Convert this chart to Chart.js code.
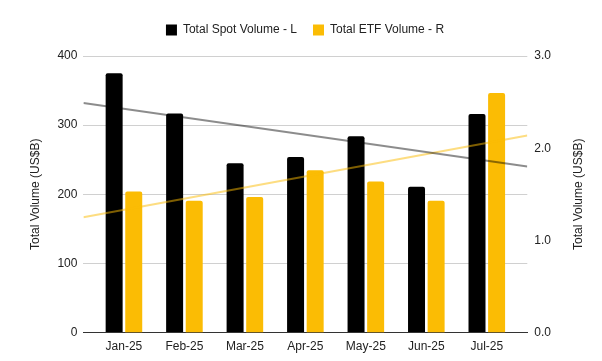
<!DOCTYPE html>
<html>
<head>
<meta charset="utf-8">
<script src="https://cdn.jsdelivr.net/npm/chart.js@4/dist/chart.umd.min.js"></script>
<style>
  html, body { margin: 0; padding: 0; background: #fff; }
  #wrap { width: 602px; height: 361px; }
</style>
</head>
<body>
<div id="wrap"><canvas id="c" width="602" height="361"></canvas></div>
<script>
// ---- data ----
const months = ["Jan-25", "Feb-25", "Mar-25", "Apr-25", "May-25", "Jun-25", "Jul-25"];
const spotVolume = [375, 317, 245, 254, 284, 211, 316];         // left axis, US$B
const etfVolume = [1.53, 1.43, 1.47, 1.76, 1.64, 1.43, 2.60];   // right axis, US$B
const leftTicks = [0, 100, 200, 300, 400];
const rightTicks = [0, 1, 2, 3];
const axisTitle = "Total Volume (US$B)";

// ---- layout constants ----
const X_MIN = -0.67, X_MAX = 6.67;
const FONT = "'Liberation Sans', Arial, sans-serif";
const TEXT = '#222';

// least-squares trend line over the category index, extended to the plot edges
function trend(values) {
  const n = values.length;
  let sx = 0, sy = 0, sxx = 0, sxy = 0;
  values.forEach((v, i) => { sx += i; sy += v; sxx += i * i; sxy += i * v; });
  const slope = (n * sxy - sx * sy) / (n * sxx - sx * sx);
  const icpt = (sy - slope * sx) / n;
  return [{ x: X_MIN, y: icpt + slope * X_MIN }, { x: X_MAX, y: icpt + slope * X_MAX }];
}

// right axis title reading bottom-to-top, like the left one
const rightTitle = {
  id: 'rightTitle',
  afterDraw(chart) {
    const a = chart.chartArea, c = chart.ctx;
    c.save();
    c.translate(579, (a.top + a.bottom) / 2);
    c.rotate(-Math.PI / 2);
    c.font = '12px ' + FONT;
    c.fillStyle = TEXT;
    c.textAlign = 'center';
    c.textBaseline = 'middle';
    c.fillText(axisTitle, 0, 0);
    c.restore();
  }
};

// extra room under the legend, and legend nudged to the right
const legendTweak = {
  id: 'legendTweak',
  beforeInit(chart) {
    const fit = chart.legend.fit;
    chart.legend.fit = function () { fit.bind(chart.legend)(); this.height += 10; };
  },
  afterLayout(chart) {
    chart.legend.left += 12;
    chart.legend.right += 12;
  }
};

const ctx = document.getElementById('c').getContext('2d');
new Chart(ctx, {
  data: {
    datasets: [
      {
        type: 'line', label: '_trendSpot', data: trend(spotVolume),
        xAxisID: 'x', yAxisID: 'y', borderColor: 'rgba(0,0,0,0.45)', borderWidth: 2,
        pointRadius: 0, order: 0, fill: false
      },
      {
        type: 'line', label: '_trendEtf', data: trend(etfVolume),
        xAxisID: 'x', yAxisID: 'y1', borderColor: 'rgba(251,188,4,0.5)', borderWidth: 2,
        pointRadius: 0, order: 0, fill: false
      },
      {
        type: 'bar', label: 'Total Spot Volume - L',
        data: spotVolume.map((v, i) => ({ x: i, y: v })),
        xAxisID: 'x', yAxisID: 'y', backgroundColor: '#000000', borderWidth: 0,
        borderRadius: { topLeft: 2, topRight: 2 }, borderSkipped: 'bottom',
        categoryPercentage: 0.648, barPercentage: 0.867, order: 1
      },
      {
        type: 'bar', label: 'Total ETF Volume - R',
        data: etfVolume.map((v, i) => ({ x: i, y: v })),
        xAxisID: 'x', yAxisID: 'y1', backgroundColor: '#FBBC04', borderWidth: 0,
        borderRadius: { topLeft: 2, topRight: 2 }, borderSkipped: 'bottom',
        categoryPercentage: 0.648, barPercentage: 0.867, order: 1
      }
    ]
  },
  plugins: [rightTitle, legendTweak],
  options: {
    responsive: false,
    animation: false,
    devicePixelRatio: 1,
    layout: { padding: { top: 8, left: 28, right: 44, bottom: 0 } },
    plugins: {
      tooltip: { enabled: false },
      legend: {
        position: 'top',
        labels: {
          font: { family: FONT, size: 12 },
          color: TEXT,
          boxWidth: 11, boxHeight: 11, padding: 16,
          filter: (item) => !item.text.startsWith('_')
        }
      }
    },
    scales: {
      x: {
        type: 'linear', min: X_MIN, max: X_MAX, offset: false,
        afterBuildTicks: (axis) => { axis.ticks = months.map((m, i) => ({ value: i })); },
        ticks: {
          autoSkip: false, maxRotation: 0, padding: 7,
          font: { family: FONT, size: 12 }, color: TEXT,
          callback: (v) => months[v]
        },
        grid: { display: false, drawTicks: false },
        border: { display: true, color: '#333', width: 1 }
      },
      y: {
        position: 'left', min: 0, max: 400,
        afterBuildTicks: (axis) => { axis.ticks = leftTicks.map(v => ({ value: v })); },
        ticks: { font: { family: FONT, size: 12 }, color: TEXT, padding: 6 },
        grid: { color: '#d0d0d0', drawTicks: false, lineWidth: 1 },
        border: { display: false },
        title: { display: true, text: axisTitle, font: { family: FONT, size: 12 }, color: TEXT, padding: { top: 0, bottom: 9 } }
      },
      y1: {
        position: 'right', min: 0, max: 3,
        afterBuildTicks: (axis) => { axis.ticks = rightTicks.map(v => ({ value: v })); },
        ticks: { font: { family: FONT, size: 12 }, color: TEXT, padding: 7, callback: (v) => v.toFixed(1) },
        grid: { display: false, drawTicks: false },
        border: { display: false },
        title: { display: false }
      }
    }
  }
});
</script>
</body>
</html>
